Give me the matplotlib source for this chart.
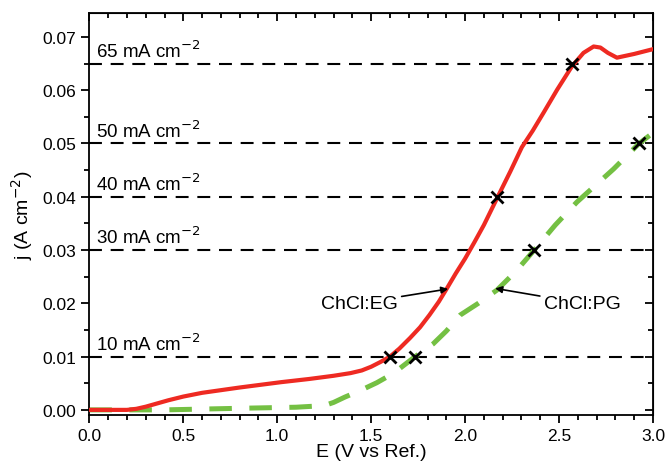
import matplotlib.pyplot as plt
from matplotlib.ticker import MultipleLocator

plt.rcParams['font.family'] = ['Liberation Sans', 'DejaVu Sans']

# ChCl:EG (solid red)
eg_E = [0.0, 0.2, 0.25, 0.3, 0.35, 0.42, 0.5, 0.6, 0.7, 0.8, 0.91, 1.02, 1.17, 1.3, 1.39,
        1.45, 1.5, 1.55, 1.60, 1.65, 1.707, 1.76, 1.81, 1.86, 1.903, 1.95, 2.0, 2.05, 2.1,
        2.171, 2.24, 2.302, 2.36, 2.418, 2.49, 2.569, 2.63, 2.684, 2.72, 2.76, 2.808, 2.9, 3.0]
eg_j = [0.0, 0.0, 0.0002, 0.0006, 0.0011, 0.0018, 0.0025, 0.0032, 0.0037, 0.0042, 0.0047,
        0.0052, 0.0058, 0.0064, 0.0069, 0.0074, 0.0081, 0.009, 0.010, 0.0115, 0.0135, 0.0155,
        0.0178, 0.0203, 0.0228, 0.0256, 0.0284, 0.0315, 0.0347, 0.0398, 0.0447, 0.0493,
        0.0524, 0.0558, 0.0601, 0.0645, 0.0670, 0.0682, 0.0680, 0.0670, 0.0661, 0.0668, 0.0677]

# ChCl:PG (dashed green)
pg_E = [0.0, 0.4, 0.8, 1.1, 1.25, 1.30, 1.36, 1.44, 1.53, 1.62, 1.734, 1.83, 1.9, 1.974,
        2.07, 2.17, 2.27, 2.368, 2.48, 2.595, 2.79, 2.923, 3.0]
pg_j = [0.0, 0.0, 0.0003, 0.0005, 0.0008, 0.0014, 0.0024, 0.0036, 0.0051, 0.0069, 0.010,
        0.0124, 0.0148, 0.0178, 0.020, 0.0225, 0.026, 0.030, 0.0347, 0.039, 0.0452, 0.0499,
        0.052]

levels = [0.01, 0.03, 0.04, 0.05, 0.065]
level_labels = ['10 mA cm$^{-2}$', '30 mA cm$^{-2}$', '40 mA cm$^{-2}$',
                '50 mA cm$^{-2}$', '65 mA cm$^{-2}$']

cross_E = [1.60, 2.17, 2.57, 1.734, 2.368, 2.923]
cross_j = [0.010, 0.040, 0.065, 0.010, 0.030, 0.050]

fig = plt.figure(figsize=(6.67, 4.64), dpi=100)
ax = fig.add_axes([0.134, 0.103, 0.845, 0.867])

for lv, lab in zip(levels, level_labels):
    ax.plot([0, 3], [lv, lv], color='black', lw=1.5, linestyle=(0, (6.2, 4.2)), zorder=1)
    ax.text(0.035, lv + 0.0005, lab, fontsize=13.5, ha='left', va='bottom')

ax.plot(pg_E, pg_j, color='#74c043', lw=3.6, linestyle=(0, (4.5, 3.5)), zorder=2)
ax.plot(eg_E, eg_j, color='#ee2a22', lw=3.0, zorder=3)
ax.plot(cross_E, cross_j, linestyle='none', marker='x', color='black', ms=8, mew=2, zorder=4)

ax.annotate('ChCl:EG', xy=(1.91, 0.0227), xytext=(1.64, 0.020), fontsize=14,
            ha='right', va='center',
            arrowprops=dict(arrowstyle='-|>', color='black', lw=1.2, mutation_scale=10,
                            shrinkA=1, shrinkB=0))
ax.annotate('ChCl:PG', xy=(2.16, 0.0228), xytext=(2.42, 0.020), fontsize=14,
            ha='left', va='center',
            arrowprops=dict(arrowstyle='-|>', color='black', lw=1.2, mutation_scale=10,
                            shrinkA=1, shrinkB=0))

ax.set_xlim(0, 3.0)
ax.set_ylim(-0.001, 0.0745)
ax.xaxis.set_major_locator(MultipleLocator(0.5))
ax.xaxis.set_minor_locator(MultipleLocator(0.1))
ax.yaxis.set_major_locator(MultipleLocator(0.01))
ax.yaxis.set_minor_locator(MultipleLocator(0.005))
ax.xaxis.set_major_formatter(plt.FormatStrFormatter('%.1f'))
ax.yaxis.set_major_formatter(plt.FormatStrFormatter('%.2f'))

ax.tick_params(which='both', direction='out', labelsize=12.5, width=1.3)
ax.tick_params(which='major', length=6)
ax.tick_params(which='minor', length=3.5)

# mirrored ticks on top/right point inward
top = ax.secondary_xaxis('top')
top.xaxis.set_major_locator(MultipleLocator(0.5))
top.xaxis.set_minor_locator(MultipleLocator(0.1))
top.tick_params(which='both', direction='in', labeltop=False, width=1.3)
top.tick_params(which='major', length=6)
top.tick_params(which='minor', length=3.5)
right = ax.secondary_yaxis('right')
right.yaxis.set_major_locator(MultipleLocator(0.01))
right.yaxis.set_minor_locator(MultipleLocator(0.005))
right.tick_params(which='both', direction='in', labelright=False, width=1.3)
right.tick_params(which='major', length=6)
right.tick_params(which='minor', length=3.5)

for sp in ax.spines.values():
    sp.set_linewidth(1.3)

ax.set_xlabel('E (V vs Ref.)', fontsize=14, labelpad=0)
ax.set_ylabel('j (A cm$^{-2}$)', fontsize=14, labelpad=5)

fig.savefig('out.png', dpi=100)
